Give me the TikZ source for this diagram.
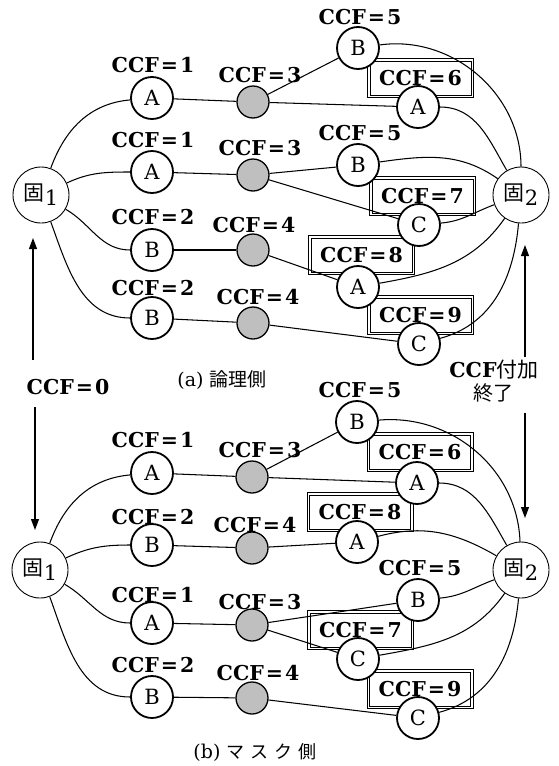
\documentclass[tikz,border=0pt]{standalone}
\usepackage{fontspec}
\setmainfont{DejaVu Serif}
\newfontfamily\jp{Noto Sans CJK JP}
\usetikzlibrary{arrows.meta}
\pgfdeclarelayer{wires}
\pgfsetlayers{wires,main}
\newcommand{\ccf}[1]{CCF\hspace{2pt}=\hspace{2pt}#1}
\newcommand{\kotei}[1]{{\jp 固}\raisebox{-5pt}{#1}}
\begin{document}
\begin{tikzpicture}[x=1pt,y=-1pt,
  lbl/.style={font=\fontsize{20.5}{20.5}\selectfont\bfseries, inner sep=0pt},
  captext/.style={font=\fontsize{19}{19}\selectfont, inner sep=0pt},
  letter/.style={circle, draw, line width=1.8pt, fill=white, minimum size=42pt,
    inner sep=0pt, font=\fontsize{21}{21}\selectfont},
  dot/.style={circle, draw, line width=1.3pt, fill=gray!50, minimum size=32pt, inner sep=0pt},
  port/.style={circle, draw, line width=0.9pt, fill=white, minimum size=56pt,
    inner sep=0pt, font=\fontsize{21}{21}\selectfont},
  ccfbox/.style={draw, line width=0.8pt,
    minimum width=106pt, minimum height=39pt, inner sep=0pt,
    font=\fontsize{20.5}{20.5}\selectfont\bfseries,
    path picture={\draw[line width=0.8pt]
      ([shift={(2.6pt,2.6pt)}]path picture bounding box.south west) rectangle
      ([shift={(-2.6pt,-2.6pt)}]path picture bounding box.north east);}},
  wire/.style={line width=1.05pt},
  flow/.style={line width=1.1pt, -{Triangle[length=11pt,width=8pt]}}
]
\useasboundingbox (0,0) rectangle (558,766);

% ---------- (a) logic side ----------
\node[port] (p1) at (41,195) {\kotei{1}};
\node[port] (q1) at (521,195) {\kotei{2}};

\node[letter] (a1) at (152,98) {A};
\node[letter] (a2) at (152,172) {A};
\node[letter] (a3) at (152,250) {B};
\node[letter] (a4) at (152,318) {B};

\node[dot] (g1) at (253,102) {};
\node[dot] (g2) at (253,175) {};
\node[dot] (g3) at (253,250) {};
\node[dot] (g4) at (253,323) {};

\node[ccfbox] (b6) at (420.5,78) {\ccf{6}};
\node[ccfbox] (b7) at (422.5,196) {\ccf{7}};
\node[ccfbox] (b8) at (361.5,255) {\ccf{8}};
\node[ccfbox] (b9) at (420.5,315) {\ccf{9}};

\node[letter] (r1) at (358,48) {B};
\node[letter] (r2) at (418,107) {A};
\node[letter] (r3) at (358,165) {B};
\node[letter] (r4) at (419,225) {C};
\node[letter] (r5) at (358,287) {A};
\node[letter] (r6) at (419,344) {C};

\node[lbl] (l1) at (153,65) {\ccf{1}};
\node[lbl] (l2) at (153,140) {\ccf{1}};
\node[lbl] (l3) at (153,217) {\ccf{2}};
\node[lbl] (l4) at (153,288) {\ccf{2}};
\node[lbl] (m1) at (260,75) {\ccf{3}};
\node[lbl] (m2) at (260,148) {\ccf{3}};
\node[lbl] (m3) at (254,225) {\ccf{4}};
\node[lbl] (m4) at (258,297) {\ccf{4}};
\node[lbl] (n1) at (360,17) {\ccf{5}};
\node[lbl] (n2) at (360,133) {\ccf{5}};

\node[captext] (capa) at (222,380) {(a) {\jp 論理側}};

\begin{pgfonlayer}{wires}
\draw[wire] (p1) to[out=70,in=185] (a1);
\draw[wire] (p1) to[out=25,in=180] (a2);
\draw[wire] (p1) to[out=-30,in=180] (a3);
\draw[wire] (p1) to[out=-70,in=180] (a4);
\draw[wire] (a1) -- (g1);
\draw[wire] (a2) -- (g2);
\draw[wire] (a3) -- (g3);
\draw[wire] (a4) -- (g4);
\draw[wire] (g1) -- (r1);
\draw[wire] (g1) -- (r2);
\draw[wire] (g2) -- (r3);
\draw[wire] (g2) -- (r4);
\draw[wire] (g3) -- (r5);
\draw[wire] (g4) -- (r6);
\draw[wire] (r1) to[out=8,in=90] (q1);
\draw[wire] (r2) to[out=0,in=120] (q1);
\draw[wire] (r3) to[out=8,in=145] (q1);
\draw[wire] (r4) to[out=5,in=200] (q1);
\draw[wire] (r5) to[out=10,in=235] (q1);
\draw[wire] (r6) to[out=15,in=265] (q1);
\end{pgfonlayer}

% ---------- (b) mask side ----------
\node[port] (P1) at (40,570) {\kotei{1}};
\node[port] (Q1) at (521,570) {\kotei{2}};

\node[letter] (A1) at (152,473) {A};
\node[letter] (A2) at (152,545) {B};
\node[letter] (A3) at (152,623) {A};
\node[letter] (A4) at (152,697) {B};

\node[dot] (G1) at (252,477) {};
\node[dot] (G2) at (252,548) {};
\node[dot] (G3) at (252,625) {};
\node[dot] (G4) at (252,698) {};

\node[ccfbox] (B6) at (420,452) {\ccf{6}};
\node[ccfbox] (B8) at (360,512) {\ccf{8}};
\node[ccfbox] (B7) at (360.5,630) {\ccf{7}};
\node[ccfbox] (B9) at (420,689) {\ccf{9}};

\node[letter] (s1) at (357,422) {B};
\node[letter] (s2) at (417,483) {A};
\node[letter] (s3) at (357,542) {A};
\node[letter] (s4) at (418,600) {B};
\node[letter] (s5) at (358,659) {C};
\node[letter] (s6) at (418,718) {C};

\node[lbl] (L1) at (153,440) {\ccf{1}};
\node[lbl] (L2) at (153,517) {\ccf{2}};
\node[lbl] (L3) at (153,595) {\ccf{1}};
\node[lbl] (L4) at (153,665) {\ccf{2}};
\node[lbl] (M1) at (260,450) {\ccf{3}};
\node[lbl] (M2) at (255,525) {\ccf{4}};
\node[lbl] (M3) at (260,602) {\ccf{3}};
\node[lbl] (M4) at (258,673) {\ccf{4}};
\node[lbl] (N1) at (360,390) {\ccf{5}};
\node[lbl] (N2) at (420,568) {\ccf{5}};

\node[captext] (capb) at (255,752) {(b) {\jp\fontsize{18}{18}\selectfont マ\hspace{6pt}ス\hspace{6pt}ク\hspace{6pt}側}};

\begin{pgfonlayer}{wires}
\draw[wire] (P1) to[out=70,in=185] (A1);
\draw[wire] (P1) to[out=25,in=180] (A2);
\draw[wire] (P1) to[out=-30,in=180] (A3);
\draw[wire] (P1) to[out=-70,in=180] (A4);
\draw[wire] (A1) -- (G1);
\draw[wire] (A2) -- (G2);
\draw[wire] (A3) -- (G3);
\draw[wire] (A4) -- (G4);
\draw[wire] (G1) -- (s1);
\draw[wire] (G1) -- (s2);
\draw[wire] (G2) -- (s3);
\draw[wire] (G3) -- (s4);
\draw[wire] (G3) -- (s5);
\draw[wire] (G4) -- (s6);
\draw[wire] (s1) to[out=5,in=92] (Q1);
\draw[wire] (s2) to[out=0,in=120] (Q1);
\draw[wire] (s3) to[out=15,in=150] (Q1);
\draw[wire] (s4) to[out=5,in=200] (Q1);
\draw[wire] (s5) to[out=10,in=235] (Q1);
\draw[wire] (s6) to[out=15,in=265] (Q1);
\end{pgfonlayer}

% ---------- CCF initialisation / completion markers ----------
\node[lbl] (z0) at (68,387) {\ccf{0}};
\coordinate (z0u) at (33,360);
\coordinate (z0ut) at (33,238);
\coordinate (z0d) at (35,407);
\coordinate (z0dt) at (35,530);
\draw[flow] (z0u) -- (z0ut);
\draw[flow] (z0d) -- (z0dt);

\node[lbl] (t1) at (494,370) {CCF{\jp\mdseries\fontsize{21}{21}\selectfont 付加}};
\node[captext, font=\fontsize{20}{20}\selectfont] (t2) at (493,393) {\jp 終了};
\coordinate (t1u) at (525,357);
\coordinate (t1ut) at (525,245);
\coordinate (t2d) at (525,413);
\coordinate (t2dt) at (525,518);
\draw[flow] (t1u) -- (t1ut);
\draw[flow] (t2d) -- (t2dt);
\end{tikzpicture}
\end{document}
